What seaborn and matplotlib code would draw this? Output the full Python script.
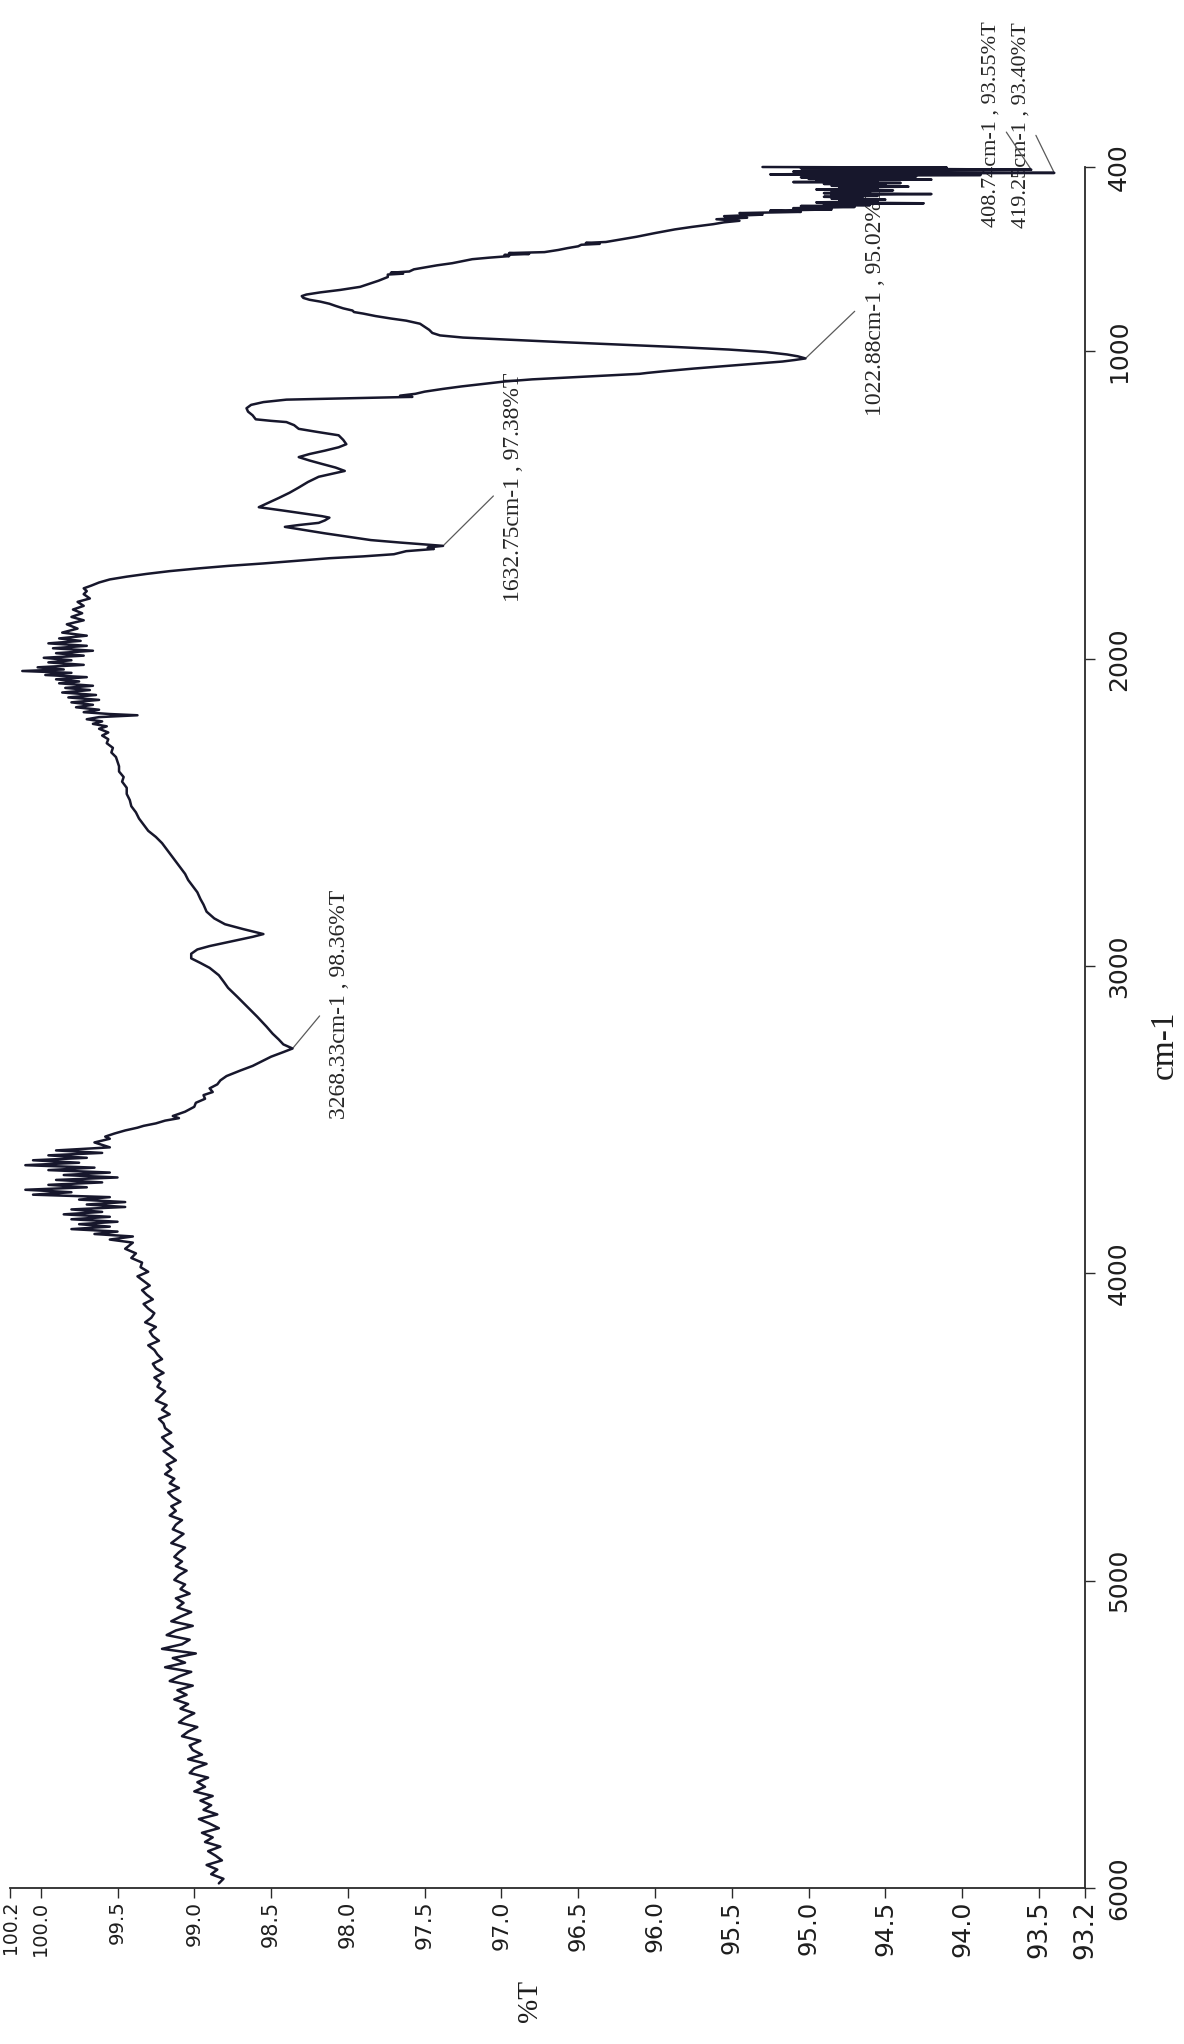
import numpy as np
import pandas as pd
import matplotlib
matplotlib.use("Agg")
import matplotlib.pyplot as plt
import seaborn as sns

# ---------------- spectrum data (wavenumber in cm-1, transmittance in %T) ----------------
# 400-580 cm-1: noisy far edge
wn_a = [400.0, 402.0, 404.0, 406.0, 408.74, 411.0, 413.0, 415.0, 417.0, 419.25,
        421.5, 424.0, 426.0, 428.5, 431.0, 433.5, 436.0, 438.5, 441.0, 443.5,
        446.0, 449.0, 452.0, 455.0, 458.0, 461.0, 464.0, 467.0, 470.0, 473.0,
        476.0, 479.0, 482.0, 485.0, 488.0, 491.0, 494.0, 497.0, 500.0, 503.0,
        506.0, 509.0, 512.0, 515.0, 518.0, 521.0, 524.0, 527.0, 530.0, 534.0,
        538.0, 542.0, 546.0, 550.0, 555.0, 560.0, 565.0, 570.0, 575.0, 580.0]
t_a = [95.30, 94.10, 95.05, 94.35, 93.55, 94.80, 94.20, 95.10, 94.50, 93.40,
       94.70, 95.25, 93.88, 94.90, 94.30, 95.05, 94.45, 95.00, 94.20, 94.95,
       94.55, 95.10, 94.40, 94.90, 94.50, 94.85, 94.35, 94.80, 94.55, 94.95,
       94.45, 94.85, 94.60, 94.90, 94.20, 94.85, 94.55, 94.90, 94.65, 94.85,
       94.50, 94.80, 94.55, 94.95, 94.25, 94.90, 94.60, 95.05, 94.70, 95.10,
       94.85, 95.25, 95.05, 95.45, 95.30, 95.55, 95.40, 95.60, 95.45, 95.55]

# 586-1131 cm-1: shoulder and the strong band
wn_b = [586, 595, 603, 615, 627, 638, 644, 647, 650, 653,
        658, 664, 670, 677, 680, 683, 686, 690, 695, 700,
        707, 713, 720, 727, 733, 740, 744, 747, 750, 758,
        770, 780, 790, 800, 808, 815, 820, 826, 832, 838,
        845, 852, 860, 867, 872, 877, 885, 893, 900, 910,
        920, 930, 940, 948, 955, 962, 970, 978, 986, 994,
        1002, 1010, 1016, 1022.88, 1028, 1033, 1040, 1048, 1056, 1065,
        1070, 1073, 1076, 1082, 1091, 1098, 1106, 1114, 1122, 1131]
t_b = [95.62, 95.76, 95.87, 96.00, 96.12, 96.25, 96.32, 96.45, 96.36, 96.48,
       96.50, 96.57, 96.63, 96.72, 96.95, 96.82, 96.98, 96.95, 97.08, 97.19,
       97.26, 97.32, 97.42, 97.50, 97.57, 97.60, 97.72, 97.64, 97.74, 97.74,
       97.80, 97.86, 97.92, 98.05, 98.18, 98.27, 98.30, 98.29, 98.25, 98.18,
       98.12, 98.08, 98.03, 97.97, 97.96, 97.90, 97.82, 97.72, 97.62, 97.53,
       97.50, 97.47, 97.45, 97.40, 97.25, 96.95, 96.60, 96.22, 95.85, 95.52,
       95.28, 95.14, 95.07, 95.02, 95.09, 95.17, 95.35, 95.55, 95.75, 95.95,
       96.05, 96.10, 96.22, 96.45, 96.80, 96.98, 97.12, 97.26, 97.38, 97.50]

# 1138-1780 cm-1: fingerprint wiggles and the 1632 band
wn_c = [1138, 1144, 1148, 1152, 1157, 1165, 1174, 1185, 1196, 1208,
        1221, 1226, 1230, 1240, 1252, 1262, 1273, 1288, 1302, 1312,
        1323, 1334, 1344, 1355, 1366, 1378, 1389, 1398, 1408, 1425,
        1443, 1460, 1477, 1493, 1507, 1518, 1528, 1536, 1541, 1550,
        1558, 1565, 1571, 1580, 1592, 1603, 1614, 1622, 1628, 1632.75,
        1638, 1643, 1650, 1660, 1667, 1673, 1682, 1690, 1698, 1706,
        1715, 1724, 1733, 1742, 1752, 1762, 1771, 1780]
t_c = [97.56, 97.66, 97.58, 97.95, 98.40, 98.55, 98.63, 98.66, 98.65, 98.62,
       98.60, 98.50, 98.40, 98.35, 98.32, 98.20, 98.06, 98.03, 98.01, 98.06,
       98.15, 98.25, 98.32, 98.25, 98.17, 98.08, 98.02, 98.10, 98.19, 98.26,
       98.32, 98.38, 98.45, 98.52, 98.58, 98.42, 98.28, 98.17, 98.12, 98.15,
       98.19, 98.32, 98.41, 98.30, 98.15, 98.00, 97.85, 97.66, 97.50, 97.38,
       97.48, 97.44, 97.62, 97.70, 97.90, 98.12, 98.35, 98.55, 98.78, 98.97,
       99.16, 99.31, 99.44, 99.55, 99.62, 99.67, 99.72, 99.70]

# 1790-2240 cm-1: noisy plateau
wn_d = [1790, 1804, 1815, 1828, 1840, 1852, 1864, 1875, 1888, 1902,
        1915, 1925, 1934, 1942, 1950, 1958, 1966, 1974, 1982, 1990,
        1997, 2005, 2012, 2020, 2028, 2035, 2040, 2046, 2053, 2060,
        2067, 2074, 2080, 2088, 2095, 2102, 2110, 2118, 2126, 2134,
        2142, 2150, 2158, 2166, 2174, 2180, 2184, 2190, 2197, 2204,
        2212, 2220, 2228, 2240]
t_d = [99.72, 99.68, 99.76, 99.72, 99.79, 99.73, 99.80, 99.72, 99.83, 99.76,
       99.86, 99.70, 99.88, 99.74, 99.95, 99.70, 99.92, 99.66, 99.90, 99.72,
       99.98, 99.80, 99.95, 99.72, 100.02, 99.85, 100.12, 99.80, 99.97, 99.70,
       99.90, 99.75, 99.88, 99.66, 99.84, 99.68, 99.86, 99.64, 99.82, 99.62,
       99.80, 99.66, 99.77, 99.62, 99.72, 99.55, 99.37, 99.62, 99.70, 99.60,
       99.66, 99.57, 99.62, 99.56]

# 2250-3268 cm-1: C-H region and the O-H band
wn_e = [2250, 2262, 2275, 2290, 2305, 2320, 2335, 2350, 2367, 2385,
        2400, 2420, 2440, 2460, 2480, 2500, 2520, 2540, 2560, 2580,
        2600, 2620, 2640, 2660, 2680, 2700, 2720, 2740, 2760, 2782,
        2800, 2823, 2845, 2864, 2880, 2896, 2905, 2921, 2935, 2946,
        2960, 2975, 2990, 3006, 3030, 3050, 3071, 3100, 3135, 3165,
        3197, 3220, 3239, 3255, 3268.33]
t_e = [99.60, 99.56, 99.57, 99.53, 99.54, 99.51, 99.50, 99.49, 99.49, 99.46,
       99.47, 99.44, 99.44, 99.42, 99.41, 99.38, 99.36, 99.33, 99.30, 99.25,
       99.21, 99.18, 99.15, 99.12, 99.09, 99.06, 99.04, 99.01, 98.98, 98.96,
       98.94, 98.92, 98.87, 98.80, 98.68, 98.55, 98.62, 98.77, 98.90, 98.98,
       99.02, 99.02, 98.96, 98.90, 98.84, 98.81, 98.78, 98.72, 98.65, 98.59,
       98.53, 98.49, 98.45, 98.42, 98.36]

# 3280-3900 cm-1: recovery and the noisy water-vapour region
wn_f = [3280, 3295, 3310, 3325, 3340, 3358, 3372, 3385, 3398, 3410,
        3420, 3432, 3445, 3458, 3474, 3488, 3495, 3503, 3512, 3520,
        3526, 3535, 3545, 3555, 3562, 3574, 3582, 3590, 3600, 3608,
        3616, 3624, 3632, 3640, 3648, 3656, 3664, 3672, 3680, 3688,
        3696, 3704, 3712, 3720, 3728, 3736, 3744, 3752, 3760, 3768,
        3776, 3784, 3792, 3800, 3808, 3816, 3824, 3832, 3840, 3848,
        3856, 3864, 3872, 3880, 3890, 3900]
t_f = [98.42, 98.50, 98.56, 98.62, 98.70, 98.79, 98.83, 98.85, 98.90, 98.88,
       98.94, 98.93, 98.99, 99.00, 99.06, 99.14, 99.10, 99.19, 99.25, 99.33,
       99.37, 99.45, 99.52, 99.58, 99.55, 99.65, 99.60, 99.55, 99.90, 99.60,
       99.95, 99.70, 100.05, 99.75, 100.10, 99.65, 99.95, 99.55, 99.85, 99.50,
       99.90, 99.60, 99.95, 99.70, 100.10, 99.80, 100.05, 99.55, 99.75, 99.45,
       99.70, 99.45, 99.80, 99.60, 99.85, 99.55, 99.80, 99.50, 99.75, 99.55,
       99.80, 99.50, 99.65, 99.40, 99.55, 99.40]

# 3920-5985 cm-1: baseline, sampled every 15 cm-1
t_g = [99.45, 99.38, 99.41, 99.34, 99.35, 99.30, 99.37, 99.33, 99.29, 99.34,
       99.31, 99.27, 99.33, 99.30, 99.26, 99.28, 99.32, 99.25, 99.29, 99.27,
       99.23, 99.30, 99.26, 99.24, 99.21, 99.27, 99.25, 99.20, 99.26, 99.22,
       99.24, 99.19, 99.22, 99.25, 99.18, 99.21, 99.16, 99.23, 99.20, 99.19,
       99.15, 99.21, 99.18, 99.14, 99.20, 99.16, 99.12, 99.18, 99.15, 99.19,
       99.13, 99.16, 99.10, 99.17, 99.14, 99.09, 99.15, 99.12, 99.16, 99.08,
       99.12, 99.14, 99.07, 99.11, 99.15, 99.06, 99.10, 99.13, 99.08, 99.12,
       99.05, 99.10, 99.13, 99.06, 99.09, 99.03, 99.12, 99.07, 99.11, 99.02,
       99.09, 99.15, 99.01, 99.12, 99.18, 99.03, 99.08, 99.21, 98.99, 99.14,
       99.06, 99.19, 99.02, 99.10, 99.16, 99.01, 99.11, 99.05, 99.13, 99.04,
       99.09, 99.00, 99.06, 99.10, 98.98, 99.04, 99.08, 98.96, 99.03, 99.01,
       98.95, 99.04, 98.92, 99.00, 99.03, 98.91, 98.98, 98.93, 99.00, 98.88,
       98.96, 98.89, 98.94, 98.85, 98.97, 98.90, 98.84, 98.95, 98.88, 98.93,
       98.83, 98.91, 98.86, 98.82, 98.92, 98.85, 98.89, 98.81, 98.84]
wn_g = np.linspace(3920, 5985, len(t_g))

# labelled peaks
peak_wn = [3268.33, 1632.75, 1022.88, 419.25, 408.74]
peak_t = [98.36, 97.38, 95.02, 93.40, 93.55]

# axis ticks
t_ticks = [100.2, 100.0, 99.5, 99.0, 98.5, 98.0, 97.5, 97.0, 96.5, 96.0,
           95.5, 95.0, 94.5, 94.0, 93.5, 93.2]
wn_ticks = [400, 1000, 2000, 3000, 4000, 5000, 6000]

# ---------------- figure ----------------
LINE = "#17172c"
AXIS = "#2a2a2a"
SERIF = "Liberation Serif"

wn = np.concatenate([wn_a, wn_b, wn_c, wn_d, wn_e, wn_f, wn_g])
tr = np.concatenate([t_a, t_b, t_c, t_d, t_e, t_f, t_g])
df = pd.DataFrame({"wavenumber": wn, "transmittance": tr})

sns.set_theme(style="white")
plt.rcParams["font.family"] = ["DejaVu Sans"]

W, H = 1184, 2044
fig = plt.figure(figsize=(W / 100, H / 100), dpi=100)
fig.patch.set_facecolor("white")
ax = fig.add_axes([10 / W, 156 / H, 1075 / W, 1721 / H])
ax.set_facecolor("white")

sns.lineplot(data=df, x="transmittance", y="wavenumber", orient="y",
             sort=False, estimator=None, color=LINE, linewidth=1.8, ax=ax)
for ln in ax.lines:
    ln.set_clip_on(False)
    ln.set_zorder(3)

ax.set_xlim(100.2, 93.2)
ax.set_ylim(6000, 400)
ax.set_xlabel("")
ax.set_ylabel("")

for side in ("left", "top"):
    ax.spines[side].set_visible(False)
for side in ("bottom", "right"):
    ax.spines[side].set_color(AXIS)
    ax.spines[side].set_linewidth(1.3)

# transmittance axis along the bottom
ax.set_xticks(t_ticks)
ax.set_xticklabels([f"{v:.1f}" for v in t_ticks])
ax.tick_params(axis="x", bottom=True, direction="out", length=7, width=1.0,
               pad=2, colors=AXIS, labelrotation=90)
sizes = np.linspace(13.5, 19, len(t_ticks))
for lab, fs in zip(ax.get_xticklabels(), sizes):
    lab.set_fontsize(fs)
    lab.set_color("#1e1e1e")
    lab.set_va("top")
    lab.set_ha("center")

# wavenumber axis on the right
ax.yaxis.tick_right()
ax.set_yticks(wn_ticks)
ax.set_yticklabels([str(v) for v in wn_ticks])
ax.tick_params(axis="y", right=True, left=False, labelright=True, labelleft=False,
               direction="out", length=7, width=1.0, pad=9, colors=AXIS,
               labelrotation=90, labelsize=18)
for lab in ax.get_yticklabels():
    lab.set_va("center")
    lab.set_ha("left")
    lab.set_color("#1e1e1e")

fig.text(1165 / W, 1 - 1045 / H, "cm-1", rotation=90, ha="center", va="center",
         fontsize=24, family=SERIF, color="#1e1e1e")
fig.text(530 / W, 1 - 2001 / H, "%T", rotation=90, ha="center", va="center",
         fontsize=21, family=SERIF, color="#1e1e1e")

# peak labels with leader lines
ann_offsets = [(47, 44), (70, 59), (70, 57), (-33, 48), (-40, 46)]
ann_relpos = [(0, 0.5), (0, 0.5), (0, 0.5), (1, 0.5), (1, 0.5)]
ann_sizes = [17, 17, 17, 16, 16]
ann_shrink = [7, 6, 7, 3, 3]
for w, t, off, rp, fs, sh in zip(peak_wn, peak_t, ann_offsets, ann_relpos,
                                 ann_sizes, ann_shrink):
    ax.annotate(f"{w:.2f}cm-1 , {t:.2f}%T", xy=(t, w), xytext=off,
                textcoords="offset pixels", rotation=90, ha="center",
                va="center", fontsize=fs, family=SERIF, color="#262626",
                zorder=2, annotation_clip=False,
                arrowprops=dict(arrowstyle="-", color="#5a5a5a", lw=0.9,
                                shrinkA=sh, shrinkB=1, relpos=rp))

fig.savefig("out.png", dpi=100, facecolor="white")
